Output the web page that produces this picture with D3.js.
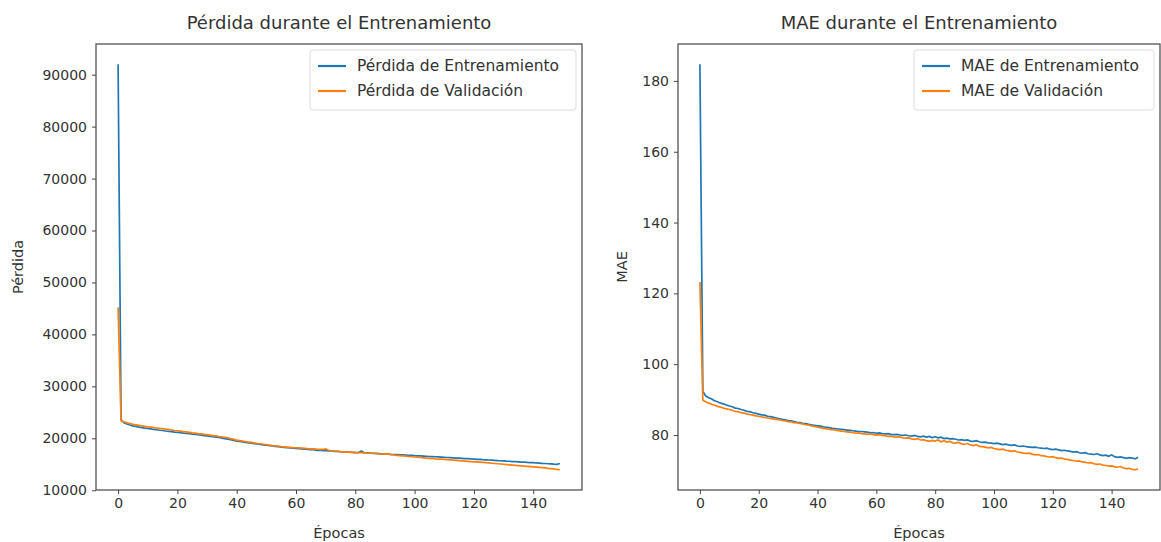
<!DOCTYPE html>
<html>
<head>
<meta charset="utf-8">
<script src="https://cdn.jsdelivr.net/npm/d3@7"></script>
<style>
  body { margin: 0; background: #fff; }
  svg text { font-family: "DejaVu Sans", sans-serif; fill: #333; }
  .domain { display: none; }
</style>
</head>
<body>
<div id="chart"></div>
<script>
// Pérdida / MAE durante el entrenamiento — two panels, matplotlib look

const lossTrain = [92000,23600,23000,22750,22550,22400,22300,22150,22050,21950,
  21900,21800,21700,21650,21550,21500,21400,21350,21300,21200,
  21150,21100,21000,20950,20880,20800,20750,20680,20600,20520,
  20450,20380,20300,20220,20150,20050,19950,19850,19750,19600,
  19450,19400,19300,19200,19120,19050,18980,18900,18820,18750,
  18680,18600,18520,18450,18380,18300,18250,18200,18150,18080,
  18050,18020,17950,17900,17880,17820,17800,17650,17700,17620,
  17600,17580,17550,17500,17480,17420,17400,17380,17350,17300,
  17250,17220,17550,17200,17180,17150,17120,17100,17050,17000,
  16980,16950,16900,16880,16850,16820,16800,16760,16720,16700,
  16650,16620,16600,16570,16540,16500,16480,16450,16420,16380,
  16350,16300,16280,16250,16200,16180,16150,16100,16080,16030,
  16000,15950,15930,15880,15850,15820,15780,15750,15700,15680,
  15640,15600,15580,15520,15500,15470,15420,15400,15350,15330,
  15300,15250,15230,15180,15150,15100,15080,15020,14980,15150];

const lossVal = [45200,23400,23150,23000,22850,22700,22600,22500,22400,22300,
  22200,22150,22050,21980,21900,21850,21750,21700,21600,21500,
  21450,21380,21300,21250,21150,21050,20980,20900,20850,20750,
  20700,20600,20500,20450,20350,20280,20200,20100,19950,19800,
  19650,19550,19450,19350,19280,19200,19100,19000,18950,18850,
  18800,18700,18600,18550,18480,18400,18350,18300,18250,18200,
  18180,18150,18100,18050,18000,17980,17950,17900,17880,17850,
  17950,17700,17600,17550,17500,17400,17380,17350,17320,17300,
  17280,17250,17230,17200,17150,17120,17100,17050,17000,16980,
  16950,17050,16850,16780,16700,16650,16600,16550,16500,16450,
  16400,16350,16300,16250,16200,16150,16120,16050,16000,15980,
  15950,15900,15850,15800,15750,15700,15650,15600,15560,15520,
  15480,15450,15400,15350,15300,15260,15200,15150,15100,15050,
  15000,14950,14900,14850,14800,14750,14700,14650,14600,14550,
  14500,14450,14400,14350,14300,14200,14150,14100,14000,13950];

const maeTrain = [184.7,92.3,91.0,90.5,90.2,89.7,89.4,89.0,88.8,88.5,
  88.2,88.0,87.6,87.5,87.2,87.0,86.7,86.6,86.3,86.1,
  85.9,85.7,85.6,85.3,85.2,85.0,84.8,84.6,84.4,84.3,
  84.1,84.0,83.8,83.6,83.5,83.3,83.2,83.0,82.9,82.7,
  82.6,82.5,82.3,82.2,82.1,81.9,81.8,81.7,81.6,81.5,
  81.4,81.3,81.2,81.1,81.0,81.0,80.9,80.8,80.6,80.7,
  80.5,80.6,80.4,80.3,80.4,80.2,80.1,80.2,80.0,79.9,
  80.0,79.8,79.7,79.9,79.6,79.5,79.7,79.4,79.6,79.3,
  79.5,79.2,79.4,79.0,79.1,78.9,79.0,78.8,78.6,78.7,
  78.5,78.6,78.3,78.2,78.4,78.1,77.9,78.0,77.8,77.7,
  77.6,77.7,77.5,77.3,77.4,77.2,77.1,77.2,76.9,76.8,
  76.9,76.7,76.6,76.5,76.6,76.4,76.3,76.2,76.3,76.0,
  75.9,76.0,75.8,75.6,75.7,75.5,75.4,75.2,75.3,75.0,
  74.9,75.0,74.7,74.6,74.5,74.7,74.4,74.2,74.3,74.0,
  74.4,73.9,73.7,73.8,73.6,73.4,73.6,73.5,73.3,73.7];

const maeVal = [123.2,89.8,89.4,89.0,88.7,88.4,88.1,87.9,87.6,87.4,
  87.2,87.0,86.7,86.6,86.3,86.2,85.9,85.8,85.6,85.4,
  85.3,85.1,85.0,84.8,84.7,84.5,84.4,84.3,84.1,84.0,
  83.8,83.7,83.5,83.4,83.3,83.1,82.9,82.8,82.6,82.4,
  82.2,82.1,81.9,81.8,81.6,81.5,81.4,81.2,81.1,81.0,
  80.9,80.8,80.7,80.5,80.6,80.4,80.3,80.2,80.3,80.1,
  80.0,80.1,79.9,79.8,79.6,79.7,79.5,79.4,79.5,79.2,
  79.1,79.2,78.9,78.8,79.0,78.6,78.7,78.4,78.2,78.5,
  78.3,78.6,78.1,78.4,78.0,78.2,77.8,77.7,77.9,77.5,
  77.4,77.6,77.2,77.0,77.3,76.8,76.7,76.6,76.4,76.5,
  76.2,76.0,75.9,76.0,75.7,75.6,75.4,75.5,75.2,75.1,
  74.9,74.8,74.9,74.6,74.4,74.5,74.2,74.1,73.9,73.8,
  73.9,73.6,73.4,73.5,73.2,73.1,72.9,72.8,72.6,72.7,
  72.4,72.3,72.1,72.2,71.9,71.7,71.8,71.5,71.4,71.2,
  71.3,71.0,70.9,71.1,70.7,70.5,70.6,70.3,70.2,70.4];

const xTicks = [0, 20, 40, 60, 80, 100, 120, 140];
const lossTicks = [10000, 20000, 30000, 40000, 50000, 60000, 70000, 80000, 90000];
const maeTicks = [80, 100, 120, 140, 160, 180];

const panels = [
  { title: "Pérdida durante el Entrenamiento", ylabel: "Pérdida", train: lossTrain, val: lossVal,
    names: ["Pérdida de Entrenamiento", "Pérdida de Validación"], ticks: lossTicks,
    left: 96, right: 582, legendW: 266, labelGap: 78 },
  { title: "MAE durante el Entrenamiento", ylabel: "MAE", train: maeTrain, val: maeVal,
    names: ["MAE de Entrenamiento", "MAE de Validación"], ticks: maeTicks,
    left: 678, right: 1160, legendW: 240, labelGap: 56 }
];

const W = 1161, H = 542, TOP = 44, BOTTOM = 490;
const BLUE = "#1f77b4", ORANGE = "#ff7f0e";

const svg = d3.select("#chart").append("svg").attr("width", W).attr("height", H);

panels.forEach(p => {
  const n = p.train.length;
  const xPad = (n - 1) * 0.05;
  const x = d3.scaleLinear().domain([-xPad, n - 1 + xPad]).range([p.left, p.right]);
  const all = p.train.concat(p.val);
  const lo = d3.min(all), hi = d3.max(all), pad = (hi - lo) * 0.05;
  const y = d3.scaleLinear().domain([lo - pad, hi + pad]).range([BOTTOM, TOP]);

  const g = svg.append("g");

  // axes
  g.append("g").attr("transform", `translate(0,${BOTTOM})`)
    .call(d3.axisBottom(x).tickValues(xTicks).tickSize(4).tickPadding(4).tickFormat(d3.format("d")))
    .call(a => a.selectAll("text").attr("font-size", 14).style("fill", "#333"))
    .call(a => a.selectAll("line").attr("stroke", "#444"));
  g.append("g").attr("transform", `translate(${p.left},0)`)
    .call(d3.axisLeft(y).tickValues(p.ticks).tickSize(4).tickPadding(5).tickFormat(d3.format("d")))
    .call(a => a.selectAll("text").attr("font-size", 14).style("fill", "#333"))
    .call(a => a.selectAll("line").attr("stroke", "#444"));

  // lines
  const line = d3.line().x((d, i) => x(i)).y(d => y(d));
  g.append("path").datum(p.train).attr("d", line)
    .attr("fill", "none").attr("stroke", BLUE).attr("stroke-width", 1.7);
  g.append("path").datum(p.val).attr("d", line)
    .attr("fill", "none").attr("stroke", ORANGE).attr("stroke-width", 1.7);

  // frame
  g.append("rect").attr("x", p.left).attr("y", TOP)
    .attr("width", p.right - p.left).attr("height", BOTTOM - TOP)
    .attr("fill", "none").attr("stroke", "#444").attr("stroke-width", 1.2);

  // titles and labels
  const cx = (p.left + p.right) / 2;
  g.append("text").attr("x", cx).attr("y", 29).attr("text-anchor", "middle")
    .attr("font-size", 18).text(p.title);
  g.append("text").attr("x", cx).attr("y", 538).attr("text-anchor", "middle")
    .attr("font-size", 14.5).text("Épocas");
  g.append("text").attr("transform", `translate(${p.left - p.labelGap + 5},${(TOP + BOTTOM) / 2}) rotate(-90)`)
    .attr("text-anchor", "middle").attr("font-size", 14.5).text(p.ylabel);

  // legend
  const lx = p.right - 6 - p.legendW, ly = 50;
  const lg = g.append("g").attr("transform", `translate(${lx},${ly})`);
  lg.append("rect").attr("width", p.legendW).attr("height", 60).attr("rx", 3)
    .attr("fill", "#fff").attr("fill-opacity", 0.8).attr("stroke", "#ddd");
  [[BLUE, p.names[0]], [ORANGE, p.names[1]]].forEach(([c, t], i) => {
    const yy = 16 + i * 25;
    lg.append("line").attr("x1", 8).attr("x2", 36).attr("y1", yy).attr("y2", yy)
      .attr("stroke", c).attr("stroke-width", 2.2);
    lg.append("text").attr("x", 47).attr("y", yy + 5).attr("font-size", 15.5).text(t);
  });
});
</script>
</body>
</html>
